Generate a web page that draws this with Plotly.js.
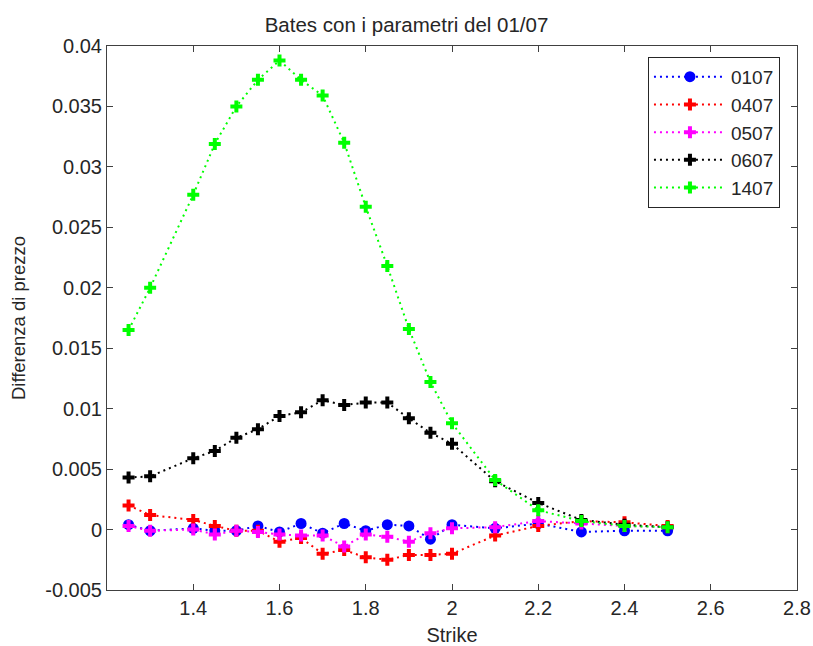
<!DOCTYPE html>
<html>
<head>
<meta charset="utf-8">
<script src="https://cdn.plot.ly/plotly-3.0.1.min.js"></script>
<style>
  html, body { margin: 0; padding: 0; background: #fff; }
  #chart { width: 813px; height: 646px; }
</style>
</head>
<body>
<div id="chart"></div>
<script>
const strike = [1.25, 1.3, 1.4, 1.45, 1.5, 1.55, 1.6, 1.65, 1.7, 1.75, 1.8, 1.85, 1.9, 1.95, 2.0, 2.1, 2.2, 2.3, 2.4, 2.5];

const s0107 = [0.0004, -0.0001, 0.0001, -0.0001, -0.0001, 0.0003, -0.0002, 0.0005, -0.0003, 0.0005, -0.0001, 0.0004, 0.0003, -0.0008, 0.0004, 0.0001, 0.0005, -0.0002, -0.0001, -0.0001];
const s0407 = [0.0020, 0.0012, 0.0008, 0.0003, -0.0001, -0.0001, -0.0010, -0.0007, -0.0020, -0.0017, -0.0023, -0.0025, -0.0021, -0.0021, -0.0020, -0.0005, 0.0003, 0.0007, 0.0006, 0.0003];
const s0507 = [0.0003, -0.0001, 0.0000, -0.0004, -0.0001, -0.0002, -0.0004, -0.0005, -0.0005, -0.0014, -0.0004, -0.0006, -0.0010, -0.0003, 0.0001, 0.0002, 0.0007, 0.0005, 0.0003, 0.0002];
const s0607 = [0.0043, 0.0044, 0.0059, 0.0065, 0.0076, 0.0083, 0.0094, 0.0097, 0.0107, 0.0103, 0.0105, 0.0105, 0.0092, 0.0080, 0.0071, 0.0040, 0.0022, 0.0008, 0.0004, 0.0002];
const s1407 = [0.0165, 0.0200, 0.0277, 0.0319, 0.0350, 0.0372, 0.0388, 0.0372, 0.0359, 0.0320, 0.0267, 0.0218, 0.0166, 0.0122, 0.0088, 0.0041, 0.0016, 0.0007, 0.0003, 0.0002];

const seriesNames = ['0107', '0407', '0507', '0607', '1407'];
const seriesData = [s0107, s0407, s0507, s0607, s1407];
const seriesColors = ['#0000ff', '#ff0000', '#ff00ff', '#000000', '#00ff00'];
const seriesSymbols = ['circle', 'cross', 'cross', 'cross', 'cross'];
const seriesSizes = [11, 10, 10, 10, 10];

const xTickVals = [1.4, 1.6, 1.8, 2.0, 2.2, 2.4, 2.6, 2.8];
const xTickText = ['1.4', '1.6', '1.8', '2', '2.2', '2.4', '2.6', '2.8'];
const yTickVals = [-0.005, 0, 0.005, 0.01, 0.015, 0.02, 0.025, 0.03, 0.035, 0.04];
const yTickText = ['-0.005', '0', '0.005', '0.01', '0.015', '0.02', '0.025', '0.03', '0.035', '0.04'];

const font = 'Liberation Sans, Arial, sans-serif';
const textColor = '#262626';

const traces = seriesNames.map((n, i) => ({
  x: strike,
  y: seriesData[i],
  name: n,
  type: 'scatter',
  mode: 'lines+markers',
  line: { color: seriesColors[i], width: 2, dash: '2px,4px' },
  marker: { color: seriesColors[i], symbol: seriesSymbols[i], size: seriesSizes[i], line: { width: 0 } }
}));

const axisCommon = {
  showline: true, linecolor: '#404040', linewidth: 1, mirror: 'ticks',
  ticks: 'inside', ticklen: 6, tickcolor: '#404040', tickwidth: 1,
  showgrid: false, zeroline: false,
  tickfont: { family: font, size: 20, color: textColor }
};

const layout = {
  width: 813, height: 646,
  margin: { l: 107, r: 16, t: 46, b: 56 },
  paper_bgcolor: '#fff', plot_bgcolor: '#fff',
  title: { text: 'Bates con i parametri del 01/07', font: { family: font, size: 20.5, color: textColor }, x: 0.5, xanchor: 'center', y: 0.962, yanchor: 'middle' },
  xaxis: Object.assign({}, axisCommon, {
    range: [1.2, 2.8], tickvals: xTickVals, ticktext: xTickText,
    title: { text: 'Strike', font: { family: font, size: 20, color: textColor }, standoff: 11 }
  }),
  yaxis: Object.assign({}, axisCommon, {
    range: [-0.005, 0.04], tickvals: yTickVals, ticktext: yTickText,
    title: { text: 'Differenza di prezzo', font: { family: font, size: 18.5, color: textColor }, standoff: 14 }
  }),
  showlegend: true,
  legend: {
    x: 0.784, y: 0.98, xanchor: 'left', yanchor: 'top',
    bgcolor: '#fff', bordercolor: '#262626', borderwidth: 1,
    font: { family: font, size: 19, color: textColor },
    itemwidth: 72, entrywidth: 140, entrywidthmode: 'pixels'
  }
};

Plotly.newPlot('chart', traces, layout, { displayModeBar: false, staticPlot: true });
</script>
</body>
</html>
